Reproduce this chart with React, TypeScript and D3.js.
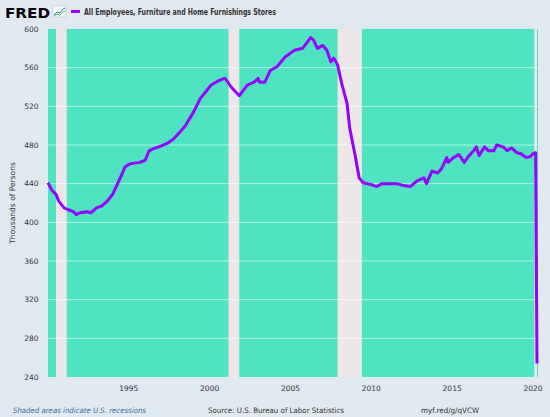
import * as d3 from "d3";

// monthly readings (YYYY-MM, thousands of persons)
const dates = [
  "1990-01", "1990-04", "1990-07", "1990-09", "1991-01", "1991-04", "1991-08", "1991-10",
  "1992-01", "1992-06", "1992-09", "1993-01", "1993-05", "1993-09", "1994-01", "1994-04",
  "1994-08", "1994-10", "1995-01", "1995-06", "1995-09", "1996-01", "1996-02", "1996-04",
  "1996-07", "1997-01", "1997-06", "1997-10", "1998-02", "1998-07", "1999-01", "1999-06",
  "1999-09", "2000-02", "2000-07", "2000-12", "2001-01", "2001-05", "2001-11", "2002-05",
  "2002-10", "2003-01", "2003-02", "2003-06", "2003-10", "2004-03", "2004-09", "2005-04",
  "2005-10", "2006-04", "2006-06", "2006-09", "2007-01", "2007-04", "2007-07", "2007-09",
  "2007-12", "2008-03", "2008-07", "2008-09", "2009-01", "2009-04", "2009-07", "2010-01",
  "2010-05", "2010-09", "2011-03", "2011-08", "2012-01", "2012-06", "2012-11", "2013-04",
  "2013-06", "2013-10", "2014-02", "2014-05", "2014-09", "2014-10", "2015-02", "2015-06",
  "2015-10", "2016-01", "2016-05", "2016-07", "2016-09", "2017-01", "2017-04", "2017-08",
  "2017-10", "2018-03", "2018-06", "2018-09", "2019-01", "2019-04", "2019-08", "2019-11",
  "2020-01", "2020-03", "2020-04",
];
const employees = [
  441, 433, 429, 422, 415, 413, 411, 408,
  410, 411, 410, 415, 417, 422, 429, 438,
  450, 457, 460, 461.5, 462, 464, 467, 474,
  476, 479, 482, 486, 492, 500, 514, 528,
  533, 542, 546, 549, 548, 540, 531, 542,
  545, 549, 545, 545, 557, 561, 571, 578,
  580, 591, 589, 580, 583, 578, 566, 570,
  563, 544, 523, 497, 469, 446, 441, 439,
  437, 440, 440, 440, 438, 437, 443, 446,
  440, 453, 451, 455, 467, 462, 467, 470,
  462, 468, 474, 478, 469, 478, 474, 474,
  480, 478, 474, 477, 472, 471, 467, 468,
  471, 472, 254,
];

const recessionStarts = ["1990-07", "2001-03", "2007-12", "2020-02"];
const recessionEnds = ["1991-03", "2001-11", "2009-06", "2020-04"];

const yTicks = [240, 280, 320, 360, 400, 440, 480, 520, 560, 600];
const xTickYears = [1995, 2000, 2005, 2010, 2015, 2020];

const W = 550;
const H = 417;
const plot = { left: 48, right: 537, top: 29, bottom: 377 };
const font = "'DejaVu Sans', 'Open Sans', sans-serif";

const parse = d3.timeParse("%Y-%m");

export default function App() {
  const points = dates.map((d, i) => ({ date: parse(d) as Date, value: employees[i] }));

  const x = d3
    .scaleTime()
    .domain([parse("1990-01") as Date, parse("2020-04") as Date])
    .range([plot.left, plot.right]);
  const y = d3.scaleLinear().domain([240, 600]).range([plot.bottom, plot.top]);

  const line = d3
    .line<{ date: Date; value: number }>()
    .x((d) => x(d.date))
    .y((d) => y(d.value));

  return (
    <svg
      width={W}
      height={H}
      style={{ position: "absolute", left: 0, top: 0, background: "#e1e9f0" }}
    >
      {/* header */}
      <text x={5} y={17.5} fontFamily="'DejaVu Sans', sans-serif" fontWeight={700} fontSize={14}
        textLength={45} lengthAdjust="spacingAndGlyphs" fill="#000">
        FRED
      </text>
      <rect x={53} y={6} width={13} height={11} fill="#f4f6f8" stroke="#b8c4d0" strokeWidth={0.6} />
      <polyline points="54,15 57,12 60,13 63,9 65.5,8" fill="none" stroke="#3c8dbc" strokeWidth={1} />
      <polyline points="54,16 57,14 60,15 63,12 65.5,11" fill="none" stroke="#6cbf5a" strokeWidth={1} />
      <line x1={71} x2={80} y1={11.5} y2={11.5} stroke="#9400ff" strokeWidth={3} />
      <text x={84} y={14.5} fontFamily={font} fontWeight={700} fontSize={8.2} fill="#333"
        textLength={192} lengthAdjust="spacingAndGlyphs">
        All Employees, Furniture and Home Furnishings Stores
      </text>

      {/* plot background */}
      <rect x={plot.left} y={plot.top} width={plot.right - plot.left + 1}
        height={plot.bottom - plot.top} fill="#4fe3c1" />
      {recessionStarts.map((s, i) => {
        const x0 = x(parse(s) as Date);
        const x1 = Math.min(x(parse(recessionEnds[i]) as Date), plot.right + 1);
        return (
          <rect key={s} x={x0} y={plot.top} width={Math.max(x1 - x0, 0)}
            height={plot.bottom - plot.top} fill="#ede6e6" />
        );
      })}

      {yTicks.slice(1, -1).map((t) => (
        <line key={t} x1={plot.left} x2={plot.right + 1} y1={y(t)} y2={y(t)}
          stroke="#ffffff" strokeOpacity={0.55} strokeWidth={1} />
      ))}

      <path d={line(points) ?? ""} fill="none" stroke="#9400ff" strokeWidth={3}
        strokeLinejoin="round" />

      {/* y axis */}
      {yTicks.map((t) => (
        <text key={t} x={38.5} y={y(t) + 2.7} textAnchor="end" fontFamily={font}
          fontSize={7.5} fill="#333">
          {t}
        </text>
      ))}
      <text transform={`translate(14.5,${(plot.top + plot.bottom) / 2}) rotate(-90)`}
        textAnchor="middle" fontFamily={font} fontSize={7.5} fill="#333">
        Thousands of Persons
      </text>

      {/* x axis */}
      {xTickYears.map((yr) => (
        <text key={yr} x={x(new Date(yr, 0, 1))} y={391} textAnchor="middle"
          fontFamily={font} fontSize={7.5} fill="#333">
          {yr}
        </text>
      ))}

      {/* footer */}
      <text x={13} y={413} fontFamily={font} fontStyle="italic" fontSize={7.5}
        fill="#3a6ea5" textLength={133} lengthAdjust="spacingAndGlyphs">
        Shaded areas indicate U.S. recessions
      </text>
      <text x={208} y={413} fontFamily={font} fontSize={7.5} fill="#333"
        textLength={136} lengthAdjust="spacingAndGlyphs">
        Source: U.S. Bureau of Labor Statistics
      </text>
      <text x={421} y={413} fontFamily={font} fontSize={7.5} fill="#333"
        textLength={58} lengthAdjust="spacingAndGlyphs">
        myf.red/g/qVCW
      </text>
    </svg>
  );
}
